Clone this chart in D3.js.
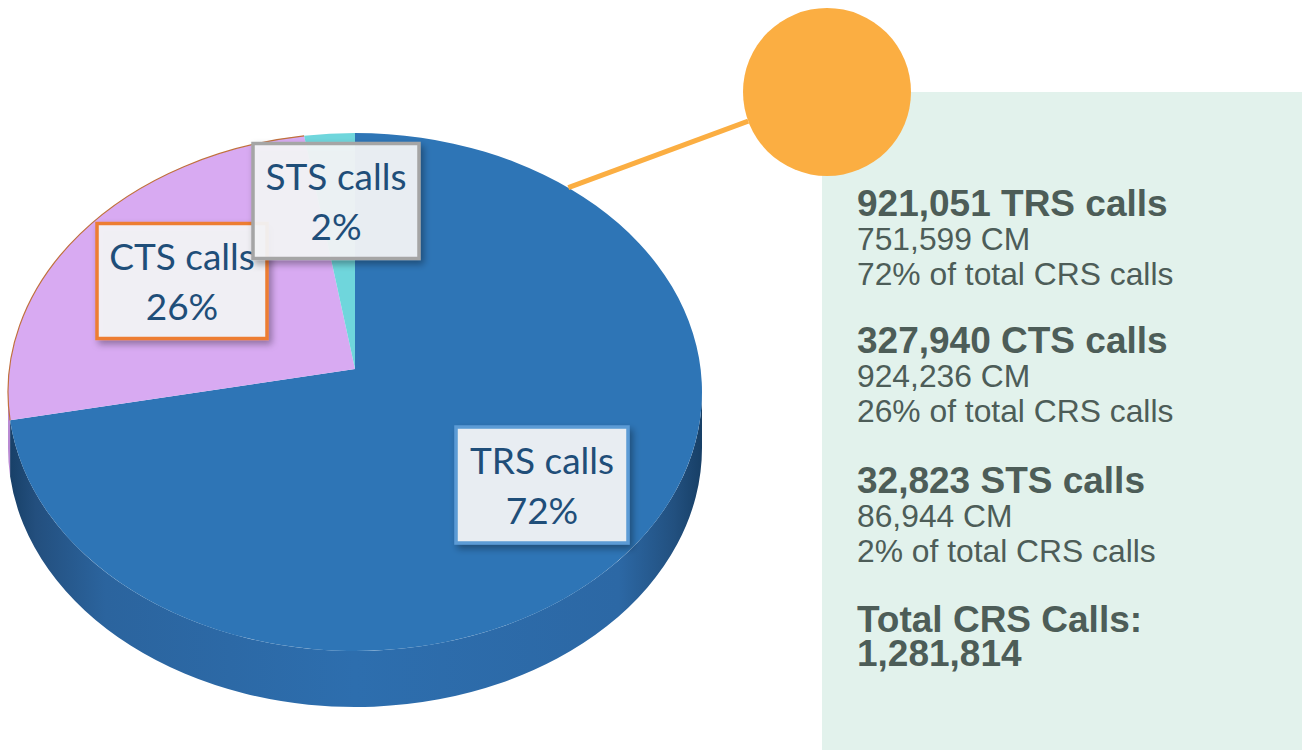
<!DOCTYPE html>
<html>
<head>
<meta charset="utf-8">
<script src="https://cdn.jsdelivr.net/npm/d3@7"></script>
<style>
  html, body { margin: 0; padding: 0; background: #ffffff; }
  svg { display: block; }
</style>
</head>
<body>
<svg id="chart" width="1302" height="750"></svg>
<script>
// ---------------- data ----------------
const categories = ["TRS calls", "CTS calls", "STS calls"];
const callCounts = [921051, 327940, 32823];
const cmMinutes = [751599, 924236, 86944];
const percentLabels = ["72%", "26%", "2%"];
const totalCalls = 1281814;

// ---------------- layout / style ----------------
const W = 1302, H = 750;
const pieCx = 355, pieCy = 392, rx = 347, ry = 259, depth = 56;
const apexY = 369;                       // projected centre of the (perspective) disc
const k = (pieCy - apexY) / ry;          // perspective shift in unit-ellipse terms
const gam = 1 / Math.sqrt(1 - k * k);
const topColors = ["#2E75B6", "#D8AAF2", "#6FD6DC"];
const sideColors = ["url(#sideBlue)", "#b98ad3", "#58b7bd"];
const borderColors = ["#5B9BD5", "#ED7D31", "#A5A5A5"];
// label box centres (placed per slice, as in the original)
const labelBoxes = [
  { cx: 542, cy: 485, w: 172, h: 116 },
  { cx: 182, cy: 281, w: 170, h: 115 },
  { cx: 336, cy: 201, w: 166, h: 115 }
];

const svg = d3.select("#chart");
const defs = svg.append("defs");

const g1 = defs.append("linearGradient").attr("id", "sideBlue")
  .attr("gradientUnits", "userSpaceOnUse")
  .attr("x1", pieCx - rx).attr("x2", pieCx + rx).attr("y1", 0).attr("y2", 0);
[[0, "#173f66"], [0.04, "#234f7e"], [0.14, "#2b649e"], [0.5, "#2d6eae"],
 [0.88, "#2c68a5"], [0.96, "#22507f"], [1, "#173f66"]]
  .forEach(([o, c]) => g1.append("stop").attr("offset", o).attr("stop-color", c));

const shadow = defs.append("filter").attr("id", "shadow")
  .attr("x", "-20%").attr("y", "-20%").attr("width", "150%").attr("height", "150%");
shadow.append("feDropShadow").attr("dx", 3).attr("dy", 4).attr("stdDeviation", 3.5)
  .attr("flood-color", "#000").attr("flood-opacity", 0.35);

// ---------------- pie ----------------
const pie = d3.pie().sort(null).value(d => d)
  .startAngle(0).endAngle(2 * Math.PI);
const arcs = pie(callCounts);

// perspective: pie angle (clockwise from top) -> parametric angle on the drawn ellipse
function proj(a) {
  const c = Math.cos(a), s = Math.sin(a);
  const xp = s / (gam * (1 + k * c));
  const yp = (-c - k) / (1 + k * c);      // screen-down positive
  let phi = Math.atan2(xp, -yp);
  if (phi < 0) phi += 2 * Math.PI;
  if (a >= 2 * Math.PI - 1e-9) phi = 2 * Math.PI;
  return phi;
}
const P = (phi, dy = 0) => [pieCx + rx * Math.sin(phi), pieCy - ry * Math.cos(phi) + dy];
const fmt = p => p[0].toFixed(2) + "," + p[1].toFixed(2);

const slices = arcs.map(d => ({ ...d, p0: proj(d.startAngle), p1: proj(d.endAngle) }));

// side walls (front half: parametric angles between PI/2 and 3PI/2)
const sideG = svg.append("g");
slices.forEach((d, i) => {
  const s = Math.max(d.p0, Math.PI / 2);
  const e = Math.min(d.p1, 3 * Math.PI / 2);
  if (e <= s) return;
  const path = `M${fmt(P(s))} A${rx},${ry} 0 0 1 ${fmt(P(e))} L${fmt(P(e, depth))} ` +
               `A${rx},${ry} 0 0 0 ${fmt(P(s, depth))} Z`;
  sideG.append("path").attr("d", path).attr("fill", sideColors[i]);
});

// top faces
const topG = svg.append("g");
slices.forEach((d, i) => {
  const large = (d.p1 - d.p0) > Math.PI ? 1 : 0;
  const path = `M${pieCx},${apexY} L${fmt(P(d.p0))} ` +
               `A${rx},${ry} 0 ${large} 1 ${fmt(P(d.p1))} Z`;
  topG.append("path").attr("d", path).attr("fill", topColors[i]);
});
// thin outline along CTS outer rim
{
  const d = slices[1];
  topG.append("path")
    .attr("d", `M${fmt(P(d.p0))} A${rx},${ry} 0 0 1 ${fmt(P(d.p1))}`)
    .attr("fill", "none").attr("stroke", "#c0703c").attr("stroke-width", 1.2);
}

// ---------------- data labels ----------------
const labG = svg.append("g");
slices.forEach((d, i) => {
  const b = labelBoxes[i];
  const g = labG.append("g");
  g.append("rect")
    .attr("x", b.cx - b.w / 2).attr("y", b.cy - b.h / 2)
    .attr("width", b.w).attr("height", b.h)
    .attr("fill", "#f4f5f8").attr("fill-opacity", 0.93)
    .attr("stroke", borderColors[i]).attr("stroke-width", 3.5)
    .attr("filter", "url(#shadow)");
  const t = g.append("text")
    .attr("text-anchor", "middle")
    .attr("font-family", "Lato, 'Open Sans', sans-serif")
    .attr("font-size", 37)
    .attr("fill", "#1F4E79");
  t.append("tspan").attr("x", b.cx).attr("y", b.cy - 11).text(categories[i]);
  t.append("tspan").attr("x", b.cx).attr("y", b.cy + 39).text(percentLabels[i]);
});

// ---------------- info panel ----------------
const panelX = 822, panelY = 92;
svg.append("rect").attr("x", panelX).attr("y", panelY)
  .attr("width", W - panelX).attr("height", H - panelY).attr("fill", "#E2F2EC");

// callout line + bubble
const bubble = { cx: 827, cy: 92, r: 84 };
const calloutPhi = 0.662; // point on the TRS rim
const start = P(calloutPhi);
const ang = Math.atan2(start[1] - bubble.cy, start[0] - bubble.cx);
const end = [bubble.cx + bubble.r * Math.cos(ang), bubble.cy + bubble.r * Math.sin(ang)];
svg.append("line")
  .attr("x1", start[0]).attr("y1", start[1]).attr("x2", end[0]).attr("y2", end[1])
  .attr("stroke", "#FBAE42").attr("stroke-width", 5);
svg.append("circle").attr("cx", bubble.cx).attr("cy", bubble.cy).attr("r", bubble.r)
  .attr("fill", "#FBAE42");

const fmtNum = d3.format(",");
const txtColor = "#4d5d58";
const tx = 857;
const info = svg.append("g").attr("font-family", "'Liberation Sans', Arial, sans-serif")
  .attr("fill", txtColor);
const blockBase = [216, 353, 493];
categories.forEach((c, i) => {
  const y0 = blockBase[i];
  info.append("text").attr("x", tx).attr("y", y0).attr("font-size", 37)
    .attr("font-weight", "bold").text(`${fmtNum(callCounts[i])} ${c}`);
  info.append("text").attr("x", tx).attr("y", y0 + 34).attr("font-size", 31.8)
    .text(`${fmtNum(cmMinutes[i])} CM`);
  info.append("text").attr("x", tx).attr("y", y0 + 69).attr("font-size", 31.8)
    .text(`${percentLabels[i]} of total CRS calls`);
});
info.append("text").attr("x", tx).attr("y", 632).attr("font-size", 37)
  .attr("font-weight", "bold").text("Total CRS Calls:");
info.append("text").attr("x", tx).attr("y", 666).attr("font-size", 37)
  .attr("font-weight", "bold").text(fmtNum(totalCalls));
</script>
</body>
</html>
